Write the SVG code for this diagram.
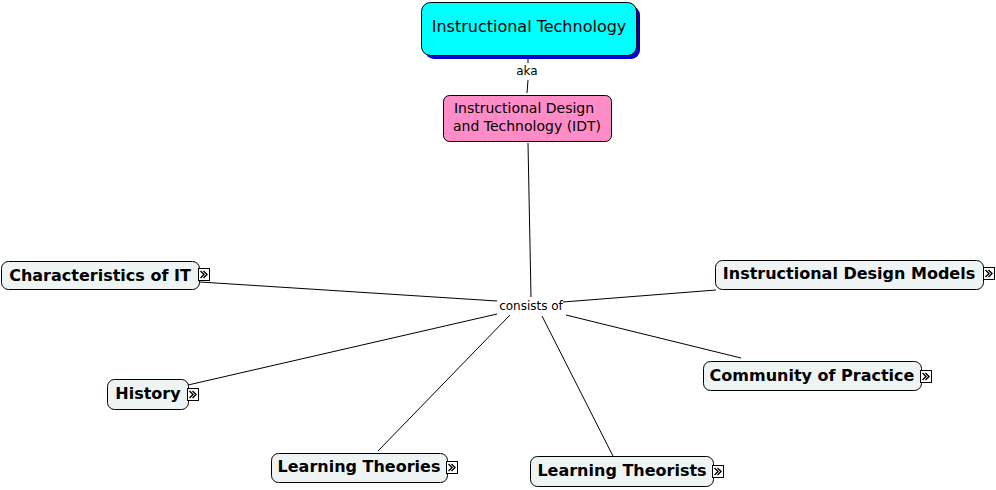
<svg xmlns="http://www.w3.org/2000/svg" width="996" height="490" viewBox="0 0 996 490">
<style>
.n{fill:#EEF4F4;stroke:#000;stroke-width:1}
.t{font-family:"DejaVu Sans",Verdana,sans-serif;font-weight:bold;font-size:16px;fill:#000;text-anchor:middle}
.l{font-family:"DejaVu Sans",Verdana,sans-serif;font-size:12px;fill:#000;text-anchor:middle}
.c{stroke:#000;stroke-width:1;fill:none}
.ic rect{fill:#fff;stroke:#000;stroke-width:1}
.ic path{fill:none;stroke:#000;stroke-width:1.4}
</style>
<defs>
<g id="icon" class="ic"><rect x="0.5" y="0.5" width="11" height="12"/><path d="M2.5 3 L6 6.5 L2.5 10 M5.5 3 L9 6.5 L5.5 10"/></g>
</defs>
<rect width="996" height="490" fill="#fff"/>
<g id="connectors">
<line class="c" x1="528" y1="57" x2="528" y2="63"/>
<line class="c" x1="528" y1="80" x2="527" y2="93"/>
<line class="c" x1="528" y1="143" x2="531" y2="297"/>
<line class="c" x1="200" y1="282" x2="497" y2="301"/>
<line class="c" x1="716" y1="290" x2="563" y2="302"/>
<line class="c" x1="188" y1="385" x2="497" y2="314"/>
<line class="c" x1="741" y1="358" x2="566" y2="315"/>
<line class="c" x1="378" y1="451" x2="510" y2="315"/>
<line class="c" x1="616" y1="462" x2="542" y2="316"/>
<text class="l" x="527" y="75">aka</text>
<text class="l" x="531" y="310">consists of</text>
</g>
<g id="it">
<rect x="425" y="6" width="215" height="53" rx="9" fill="#0000CC"/>
<rect x="421.5" y="2.5" width="215" height="53" rx="9" fill="#00FFFF" stroke="#000"/>
<text x="529" y="32" style="font-family:'DejaVu Sans',Verdana,sans-serif;font-size:16px;text-anchor:middle;fill:#000">Instructional Technology</text>
</g>
<g id="idt">
<rect x="443.5" y="95.5" width="168" height="46" rx="6" fill="#FF8CC6" stroke="#000"/>
<text x="524" y="113" style="font-family:'DejaVu Sans',Verdana,sans-serif;font-size:14px;text-anchor:middle;fill:#000">Instructional Design</text>
<text x="527" y="131" style="font-family:'DejaVu Sans',Verdana,sans-serif;font-size:14px;text-anchor:middle;fill:#000">and Technology (IDT)</text>
</g>
<g id="characteristics">
<rect class="n" x="1.5" y="261.5" width="198" height="28" rx="7"/>
<text class="t" x="100" y="281">Characteristics of IT</text>
<use href="#icon" x="198" y="268"/>
</g>
<g id="idmodels">
<rect class="n" x="715.5" y="260.5" width="268" height="29" rx="7"/>
<text class="t" x="849" y="279">Instructional Design Models</text>
<use href="#icon" x="983" y="267"/>
</g>
<g id="history">
<rect class="n" x="107.5" y="379.5" width="81" height="30" rx="7"/>
<text class="t" x="148" y="399">History</text>
<use href="#icon" x="187" y="388"/>
</g>
<g id="community">
<rect class="n" x="703.5" y="361.5" width="218" height="29" rx="7"/>
<text class="t" x="812" y="381">Community of Practice</text>
<use href="#icon" x="920" y="370"/>
</g>
<g id="theories">
<rect class="n" x="271.5" y="453.5" width="176" height="29" rx="7"/>
<text class="t" x="359" y="472">Learning Theories</text>
<use href="#icon" x="446" y="461"/>
</g>
<g id="theorists">
<rect class="n" x="530.5" y="456.5" width="183" height="30" rx="7"/>
<text class="t" x="622" y="476">Learning Theorists</text>
<use href="#icon" x="712" y="465"/>
</g>
</svg>
